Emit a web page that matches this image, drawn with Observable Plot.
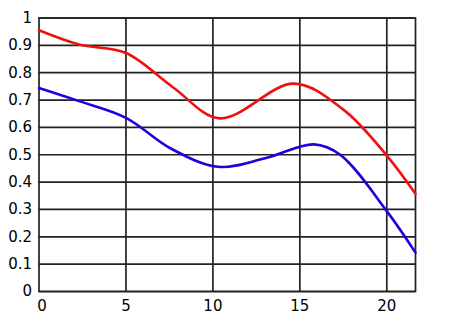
<!DOCTYPE html>
<html>
<head>
<meta charset="utf-8">
<script src="https://cdn.jsdelivr.net/npm/d3@7"></script>
<script src="https://cdn.jsdelivr.net/npm/@observablehq/plot@0.6"></script>
<style>
  html, body { margin: 0; padding: 0; background: #fff; }
</style>
</head>
<body>
<div id="chart"></div>
<script>
const redX = [0, 2.3, 5, 7.7, 10.4, 14.65, 17.5, 20, 21.65];
const redY = [0.955, 0.903, 0.872, 0.747, 0.633, 0.760, 0.665, 0.497, 0.357];
const blueX = [0, 2.3, 5, 7.6, 10.3, 13, 15.8, 17.3, 20, 21.65];
const blueY = [0.744, 0.696, 0.635, 0.522, 0.456, 0.487, 0.538, 0.501, 0.294, 0.142];
const xTicks = [0, 5, 10, 15, 20];
const yTicks = [0, 0.1, 0.2, 0.3, 0.4, 0.5, 0.6, 0.7, 0.8, 0.9, 1];

const red = redX.map((x, i) => ({x, y: redY[i]}));
const blue = blueX.map((x, i) => ({x, y: blueY[i]}));

const chart = Plot.plot({
  width: 451,
  height: 328,
  marginLeft: 38.5,
  marginRight: 36,
  marginTop: 17.5,
  marginBottom: 37,
  style: { fontFamily: "DejaVu Sans", fontSize: "15px", background: "#fff", color: "#000" },
  x: { domain: [0, 21.65] },
  y: { domain: [0, 1] },
  marks: [
    Plot.gridX(xTicks.filter(d => d > 0), { stroke: "#222", strokeOpacity: 1, strokeWidth: 1.7 }),
    Plot.gridY(yTicks, { stroke: "#222", strokeOpacity: 1, strokeWidth: 1.7 }),
    Plot.frame({ stroke: "#222", strokeWidth: 1.7 }),
    Plot.line(blue, { x: "x", y: "y", stroke: "#2200dd", strokeWidth: 2.6, curve: "catmull-rom" }),
    Plot.line(red, { x: "x", y: "y", stroke: "#ee1111", strokeWidth: 2.6, curve: "catmull-rom" }),
    Plot.axisY({ ticks: yTicks, tickSize: 0, tickPadding: 7, tickFormat: d => String(+d.toFixed(1)), label: null, fontSize: 15 }),
    Plot.axisX({ ticks: [0], tickSize: 0, tickPadding: 9, dx: 3, tickFormat: d => String(d), label: null, fontSize: 15 }),
    Plot.axisX({ ticks: xTicks.filter(d => d > 0), tickSize: 0, tickPadding: 9, tickFormat: d => String(d), label: null, fontSize: 15 })
  ]
});
document.getElementById("chart").appendChild(chart);
</script>
</body>
</html>
